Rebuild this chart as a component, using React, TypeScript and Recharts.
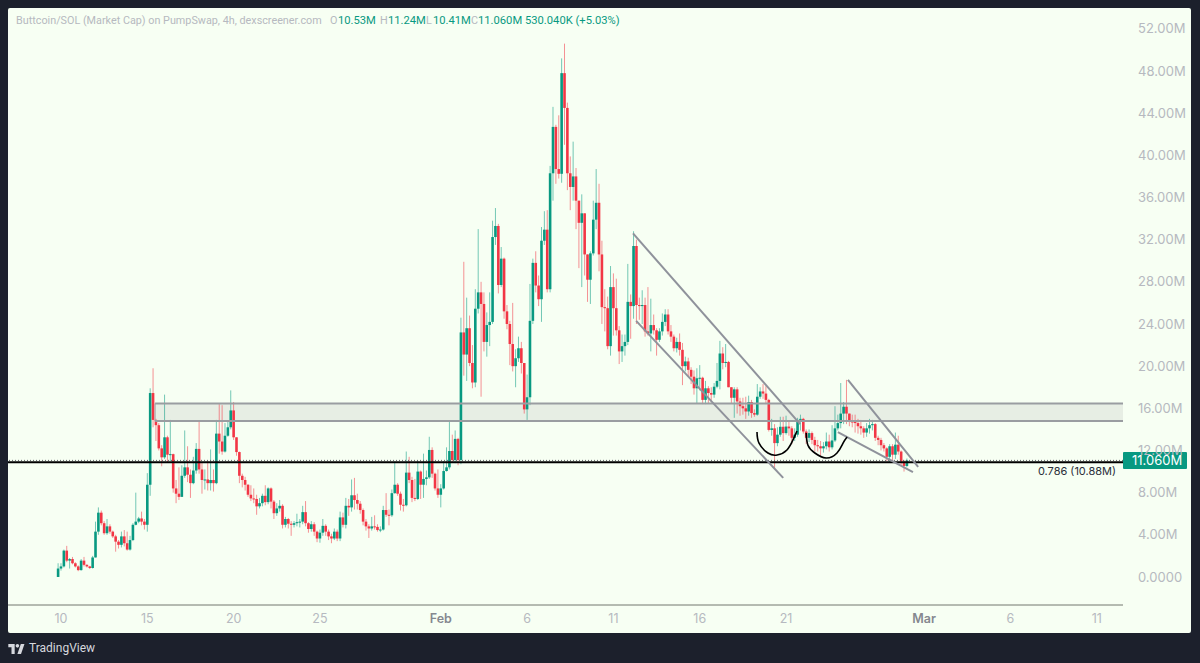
import { Bar, ComposedChart, Line, ReferenceArea, ReferenceLine, XAxis, YAxis } from 'recharts';

// 4h candles, index 0 = Jan 10 00:00, first candle sits at index -1
const firstOpen = 0.0;
const firstIndex = -1;

const closes = [
  0.8,
  1.0, 2.5, 1.55, 1.7, 1.3, 1.0, 0.65, 1.55, 1.15, 1.0,
  0.85, 1.85, 4.3, 6.1, 5.1, 4.15, 4.8, 4.3, 3.85, 3.35,
  3.05, 3.85, 3.2, 2.6, 3.5, 4.95, 5.25, 5.55, 5.25, 4.95,
  8.75, 17.45, 14.9, 14.4, 12.2, 11.35, 13.25, 11.6, 11.65, 8.4,
  7.9, 7.6, 9.6, 10.4, 9.7, 8.9, 10.1, 12.15, 10.2, 9.2,
  9.25, 8.9, 9.2, 8.9, 13.6, 12.85, 11.9, 13.4, 14.2, 15.8,
  13.25, 11.85, 9.6, 9.2, 8.75, 7.8, 7.45, 7.4, 6.7, 7.0,
  7.7, 7.1, 8.4, 7.15, 6.05, 6.5, 6.75, 4.95, 5.5, 5.05,
  4.95, 5.1, 5.2, 5.25, 6.15, 5.1, 4.55, 5.0, 4.3, 3.65,
  4.2, 4.85, 4.3, 3.85, 3.65, 4.3, 3.65, 5.65, 4.95, 6.75,
  6.6, 7.75, 7.3, 6.95, 6.35, 5.25, 4.8, 4.6, 4.8, 4.75,
  4.45, 4.5, 6.35, 5.9, 5.85, 7.95, 8.75, 7.9, 6.85, 6.8,
  9.9, 9.2, 7.5, 7.4, 10, 8.75, 9.3, 9.45, 12.05, 9.8,
  8.4, 7.8, 8.4, 10.05, 10.4, 11.95, 11.1, 13.1, 11.1, 23.2,
  21.1, 23.6, 20.3, 18.45, 25.45, 27, 25.9, 22.3, 23.9, 24.2,
  32.25, 33.3, 27.7, 30.2, 25.2, 24, 22.1, 20, 20.75, 21.7,
  20.3, 15.9, 17.05, 24.3, 29.8, 27.65, 26.35, 31.9, 32.95, 27.3,
  38.3, 42.7, 38.7, 38.25, 47.8, 44.5, 38.3, 37, 38, 35.7,
  33.6, 34.5, 30.6, 28.2, 30.7, 33.9, 35.5, 30.6, 25.6, 25.5,
  21.9, 27.5, 25.5, 23.4, 21.4, 21.9, 22.3, 26.1, 25.7, 31.4,
  25.8, 25.7, 25.8, 23.3, 23.1, 23.9, 23.4, 22.5, 23.3, 24.2,
  24.9, 23.3, 22.8, 21.7, 22.3, 21.55, 20, 20.45, 19.65, 19,
  17.9, 18.85, 18.9, 16.8, 17.9, 17.45, 17.3, 18.05, 18.6, 21.2,
  20.3, 20.4, 18, 17, 17.8, 16.65, 16.2, 16, 15.7, 16.6,
  15.55, 15.4, 17.1, 17.6, 17.4, 16.8, 13.95, 14.1, 12.7, 13.5,
  14.25, 13.65, 14.27, 14.1, 13.2, 13.5, 14.9, 15, 13.8, 13.2,
  13.65, 13, 12.5, 12.4, 12.2, 12.4, 12.85, 12.3, 12.95, 14.1,
  14.6, 15.5, 16.15, 15.5, 14.75, 14.7, 14.6, 14.3, 14.1, 13.7,
  14.1, 14.4, 14.5, 13.2, 13, 12.5, 12.2, 11.4, 12.4, 11.6,
  12.55, 11.9, 10.95, 10.53, 11.06,
];

const highs = [
  1.3,
  1.3, 2.6, 2.95, 1.8, 1.9, 1.4, 1.1, 1.7, 1.9, 1.2,
  1.05, 2.0, 5.25, 6.6, 6.3, 5.3, 5.5, 5.0, 4.4, 4.0,
  3.5, 4.3, 4.45, 4.3, 3.9, 5.1, 8.0, 5.7, 6.2, 5.5,
  9.85, 17.9, 19.8, 15, 14.6, 12.5, 17.3, 13.4, 14.9, 11.7,
  9.2, 10.4, 10.6, 13.9, 12.4, 10.2, 11.4, 12.7, 14.8, 10.9,
  10.2, 11, 12.1, 10.2, 14.9, 16.4, 16.3, 14.6, 14.8, 17.7,
  16.6, 13.1, 11.9, 9.8, 9.5, 8.8, 8.7, 8.4, 7.8, 7.5,
  7.9, 8.7, 8.5, 8.5, 7.3, 7.0, 7.3, 6.9, 5.7, 5.6,
  5.3, 5.3, 6.0, 5.5, 6.75, 7.2, 5.2, 5.3, 5.2, 4.4,
  4.5, 5.5, 5.0, 4.5, 4.1, 4.6, 4.5, 6.2, 6.1, 7.5,
  7.4, 9.25, 9.4, 7.9, 7.2, 6.5, 5.5, 5.0, 5.7, 5.85,
  5.0, 4.8, 6.75, 7.95, 6.4, 8.3, 10.95, 8.9, 8.1, 7.4,
  11.9, 11.4, 9.5, 9.3, 11.0, 10.1, 11.7, 10.1, 13.3, 12.3,
  9.9, 10.2, 8.8, 11.0, 12.3, 14.7, 13.5, 13.9, 13.2, 24.6,
  29.9, 26.5, 24.8, 22, 27.3, 33, 28, 27, 25.1, 27,
  33.8, 35, 33.5, 31.3, 30.3, 25.8, 24.3, 26, 21.6, 22.8,
  22.3, 20.3, 19.2, 27.8, 30.2, 30.9, 28.6, 33.2, 34.7, 34.8,
  39, 44.6, 42.9, 43.8, 49.2, 50.6, 45, 39.9, 41.3, 38.8,
  35.7, 36.3, 34.5, 30.6, 30.9, 35.7, 38.7, 37.3, 31.9, 27.3,
  26.6, 29.5, 28.8, 28.3, 23.8, 23, 23, 29.7, 26.8, 32.8,
  32, 26.5, 27.2, 26.5, 27.5, 26.4, 24.9, 23.6, 23.6, 25,
  25.4, 25.4, 23.9, 23, 22.7, 23.1, 22.2, 20.9, 20.8, 19.9,
  19.6, 19.8, 20.1, 19, 18.6, 18.1, 18, 18.4, 20.3, 22.4,
  21.8, 22.1, 20.5, 18, 18, 18, 17, 17, 17.1, 17.2,
  16.8, 15.9, 18.3, 18, 18.3, 18.1, 16.9, 15, 14.5, 14.2,
  15.2, 15.2, 15.3, 14.8, 14.3, 14.1, 15.1, 15.4, 15.1, 14,
  14, 13.8, 13.3, 13, 12.9, 12.8, 13.7, 13.5, 14.4, 16.2,
  15.4, 18.4, 16.6, 18.7, 15.5, 15.4, 15.4, 15, 14.9, 14.3,
  14.6, 15, 14.9, 14.6, 13.4, 13.2, 12.7, 12.3, 12.6, 12.6,
  13.7, 13.4, 12, 11.1, 11.24,
];

const lows = [
  0,
  0.6, 0.9, 1.4, 0.8, 1.2, 0.9, 0.55, 0.6, 1, 0.9,
  0.75, 0.8, 1.85, 4, 4.9, 4, 4, 4.1, 3.7, 2.4,
  2.7, 2.8, 2.9, 2.5, 2.5, 3.4, 4.9, 5.1, 4.9, 4.5,
  4.3, 7.7, 14.2, 12.9, 12, 10.5, 11.2, 10.9, 11, 8,
  7, 7.3, 7.6, 9.4, 9, 7.5, 8.8, 9.8, 9.8, 7.9,
  8.3, 8.2, 8.2, 8.1, 8.8, 11.7, 11.6, 11.8, 13.3, 14,
  13, 11.5, 8.9, 8.5, 8.2, 7.6, 7.2, 7, 5.9, 6.5,
  6.7, 6.8, 6.9, 6.5, 5.5, 5.8, 6.2, 4.6, 4.7, 4.6,
  3.9, 4.7, 4.8, 4.7, 5, 4.8, 4.2, 4.3, 3.9, 3.3,
  3.25, 3.9, 3.9, 3.5, 3.2, 3.5, 3.4, 3.4, 4.7, 4.6,
  5.8, 6.2, 6.4, 6.4, 6, 4.9, 4.4, 3.7, 4.4, 4.5,
  4.3, 4.25, 4.4, 5.7, 4.9, 5.7, 7.9, 7.7, 6.3, 6.2,
  6.7, 8.9, 7.1, 7.2, 7.3, 7.4, 7.5, 8.7, 9.3, 9.4,
  8.2, 7.5, 6.6, 8.3, 10, 10.2, 10.9, 10.8, 10.6, 10.7,
  19.1, 18.6, 20, 17.9, 18, 25, 17.1, 21.4, 20.9, 21.9,
  24, 31.5, 26.9, 27.5, 24.5, 23.5, 20.1, 19.5, 18, 20.4,
  19.3, 15.5, 14.9, 16.3, 24, 27, 25.7, 24.2, 31.5, 27,
  27, 35.7, 37.3, 37.8, 37.4, 41, 36.7, 34.8, 35.7, 33,
  29.3, 27.5, 28.6, 26.1, 25.9, 30.5, 33, 29, 24, 23.3,
  21.6, 21, 22.9, 22.9, 20.2, 20.4, 21, 22, 22.6, 24.5,
  24, 24.4, 24, 22.8, 22.9, 21.4, 23, 21, 22.3, 22.9,
  23.8, 23, 22.3, 21.4, 21.3, 21, 18.2, 19.5, 19, 18.3,
  17.3, 16.5, 17.7, 16.4, 16.4, 16.5, 16.6, 17, 17.9, 17.8,
  19.7, 19.9, 18, 16.5, 15.1, 15.5, 15.3, 15.4, 15, 15.3,
  15.1, 15.2, 15.3, 16.9, 16.9, 16.4, 13.8, 13.4, 10.2, 12.4,
  13.3, 12.9, 13.5, 13.4, 12.6, 12.9, 13.3, 13.9, 13.6, 12.6,
  12.8, 12.6, 11.9, 11.9, 11.5, 11.8, 12.1, 11.9, 12.1, 12.8,
  13.9, 14.1, 14.5, 14.5, 14.3, 14.2, 13.7, 13.6, 13.5, 13.2,
  13.3, 13.6, 13.9, 12.9, 12.5, 12, 11.9, 11, 10.9, 10.9,
  11.2, 11.6, 10.6, 10, 10.41,
];

const priceTicks = [0, 4, 8, 12, 16, 20, 24, 28, 32, 36, 40, 44, 48, 52];
const dateTicks = [0, 30, 60, 90, 132, 162, 192, 222, 252, 300, 330, 360];
const dateLabels = ['10', '15', '20', '25', 'Feb', '6', '11', '16', '21', 'Mar', '6', '11'];

const lastPrice = 11.06;
const fibLevel = 10.88;
const zone = { from: 32.7, to: 369.1, low: 14.8, high: 16.46 };

// drawn trend lines, [index, price] pairs
const channelUpper = [[198.8, 32.6], [256.9, 14.5]];
const channelLower = [[199.9, 24.3], [251, 9.4]];
const wedgeUpper = [[273.5, 18.7], [297.9, 10.45]];
const wedgeLower = [[270, 13.75], [296.1, 9.95]];
const trendLines = [channelUpper, channelLower, wedgeUpper, wedgeLower];

const arcLeft = [
  { i: 241.9, price: 13.76 }, { i: 242.6, price: 12.7 }, { i: 245.7, price: 11.76 }, { i: 248.9, price: 11.57 },
  { i: 252.3, price: 12.05 }, { i: 254.4, price: 13 }, { i: 255.8, price: 13.85 },
];
const arcRight = [
  { i: 259, price: 13.66 }, { i: 259.6, price: 12.5 }, { i: 262, price: 11.76 }, { i: 265.9, price: 11.29 },
  { i: 269.7, price: 11.76 }, { i: 271.8, price: 12.7 }, { i: 273.2, price: 13.28 },
];

const candles = closes.map((close, n) => {
  const open = n === 0 ? firstOpen : closes[n - 1];
  return {
    i: firstIndex + n,
    open,
    close,
    high: Math.max(highs[n], open, close),
    low: Math.min(lows[n], open, close),
  };
});

const UP = '#089981';
const DOWN = '#f23645';
const PANEL = '#f7fff3';
const FRAME = '#1c202c';
const FONT = 'Inter, "Noto Sans", sans-serif';
const HEADER_FONT = 'Roboto, sans-serif';
const ZONE_LINE = '#9a9da1';

function Candle(props: any) {
  const { x, y, width, height, payload } = props;
  const color = payload.close >= payload.open ? UP : DOWN;
  const k = height / (payload.high - payload.low);
  const top = y + (payload.high - Math.max(payload.open, payload.close)) * k;
  const bodyH = Math.max(Math.abs(payload.close - payload.open) * k, 1);
  const cx = x + width / 2;
  return (
    <g>
      <line x1={cx} x2={cx} y1={y} y2={y + height} stroke={color} strokeOpacity={0.55} strokeWidth={1} />
      <rect x={cx - 1.3} y={top} width={2.6} height={bodyH} fill={color} />
    </g>
  );
}

function DateTick({ x, y, payload }: any) {
  const label = dateLabels[dateTicks.indexOf(payload.value)];
  const isMonth = label === 'Feb' || label === 'Mar';
  return (
    <text x={x} y={y + 10} textAnchor="middle" fontSize={12.5} fontFamily={FONT} fontWeight={isMonth ? 600 : 400} fill={isMonth ? '#85888f' : '#b6b9c0'}>
      {label}
    </text>
  );
}

function PriceTag({ viewBox }: any) {
  const right = viewBox.x + viewBox.width;
  return (
    <g>
      <rect x={right} y={viewBox.y - 8.5} width={64} height={17} rx={1} fill={UP} />
      <text x={right + 9} y={viewBox.y + 4.5} fontSize={13} fontFamily={FONT} fill="#ffffff">
        11.060M
      </text>
    </g>
  );
}

function FibLabel({ viewBox }: any) {
  return (
    <text x={viewBox.x + viewBox.width - 7} y={viewBox.y + 13} textAnchor="end" fontSize={11} fontFamily={FONT} fill="#2a2e39">
      0.786 (10.88M)
    </text>
  );
}

const headerItems = [
  { left: 8, text: 'Buttcoin/SOL (Market Cap) on PumpSwap, 4h, dexscreener.com', color: '#b6b9c0', size: 10.8 },
  { left: 322, text: 'O', color: '#b6b9c0', size: 10.8 },
  { left: 330, text: '10.53M', color: UP, size: 11.2 },
  { left: 372, text: 'H', color: '#b6b9c0', size: 10.8 },
  { left: 380, text: '11.24M', color: UP, size: 11.2 },
  { left: 418, text: 'L', color: '#b6b9c0', size: 10.8 },
  { left: 425, text: '10.41M', color: UP, size: 11.2 },
  { left: 463, text: 'C', color: '#b6b9c0', size: 10.8 },
  { left: 470, text: '11.060M', color: UP, size: 11.2 },
  { left: 517, text: '530.040K (+5.03%)', color: UP, size: 11.2 },
];

export default function App() {
  return (
    <div style={{ position: 'fixed', left: 0, top: 0, width: 1200, height: 663, background: FRAME, overflow: 'hidden' }}>
      <div style={{ position: 'absolute', left: 8, top: 8, width: 1183, height: 625, background: PANEL, borderRadius: 2 }}>
        <ComposedChart width={1183} height={625} data={candles} margin={{ top: 0, right: 0, bottom: 0, left: 0 }}>
          <XAxis
            dataKey="i"
            type="number"
            domain={[-18.42, 369.1]}
            allowDataOverflow
            ticks={dateTicks}
            interval={0}
            tick={<DateTick />}
            tickLine={false}
            axisLine={{ stroke: '#73776f', strokeWidth: 1 }}
            height={28}
          />
          <YAxis
            orientation="right"
            type="number"
            domain={[-2.66, 53.98]}
            allowDataOverflow
            ticks={priceTicks}
            interval={0}
            tickFormatter={(value: number) => (value === 0 ? '0.0000' : `${value.toFixed(2)}M`)}
            tick={{ fontSize: 13, fill: '#b6b9c0', fontFamily: FONT }}
            tickLine={false}
            axisLine={false}
            tickMargin={9}
            width={68}
          />
          <ReferenceArea x1={zone.from} x2={zone.to} y1={zone.low} y2={zone.high} fill="#8f8a96" fillOpacity={0.15} stroke="none" />
          <ReferenceLine segment={[{ x: zone.from, y: zone.high }, { x: zone.to, y: zone.high }]} stroke={ZONE_LINE} strokeWidth={2} />
          <ReferenceLine segment={[{ x: zone.from, y: zone.low }, { x: zone.to, y: zone.low }]} stroke={ZONE_LINE} strokeWidth={2} />
          <ReferenceLine segment={[{ x: zone.from, y: zone.low }, { x: zone.from, y: zone.high }]} stroke={ZONE_LINE} strokeWidth={1} />
          <Bar dataKey={(d: any) => [d.low, d.high]} barSize={3} shape={<Candle />} isAnimationActive={false} />
          <ReferenceLine y={lastPrice} stroke="#5a5f60" strokeDasharray="1 2" strokeWidth={1} label={<PriceTag />} />
          <ReferenceLine y={fibLevel} stroke="#000000" strokeWidth={2} label={<FibLabel />} />
          {trendLines.map((pts, n) => (
            <ReferenceLine
              key={n}
              segment={[{ x: pts[0][0], y: pts[0][1] }, { x: pts[1][0], y: pts[1][1] }]}
              stroke="#8f929b"
              strokeWidth={2}
            />
          ))}
          <Line data={arcLeft} dataKey="price" type="natural" stroke="#000000" strokeWidth={1.6} dot={false} isAnimationActive={false} />
          <Line data={arcRight} dataKey="price" type="natural" stroke="#000000" strokeWidth={1.6} dot={false} isAnimationActive={false} />
        </ComposedChart>
        {headerItems.map((item) => (
          <span
            key={item.left}
            style={{ position: 'absolute', left: item.left, top: 6, fontFamily: HEADER_FONT, fontSize: item.size, lineHeight: '14px', color: item.color, whiteSpace: 'nowrap' }}
          >
            {item.text}
          </span>
        ))}
      </div>
      <svg style={{ position: 'absolute', left: 8, top: 644 }} width={17} height={10} viewBox="0 0 36 22">
        <path d="M14 22H7V7H0V0h14v22zM28 22h-8l7.5-22h8L28 22z" fill="#d6d8de" />
        <circle cx="20" cy="4" r="4" fill="#d6d8de" />
      </svg>
      <span style={{ position: 'absolute', left: 29, top: 641, fontFamily: HEADER_FONT, fontSize: 12, lineHeight: '14px', color: '#d6d8de' }}>TradingView</span>
    </div>
  );
}
